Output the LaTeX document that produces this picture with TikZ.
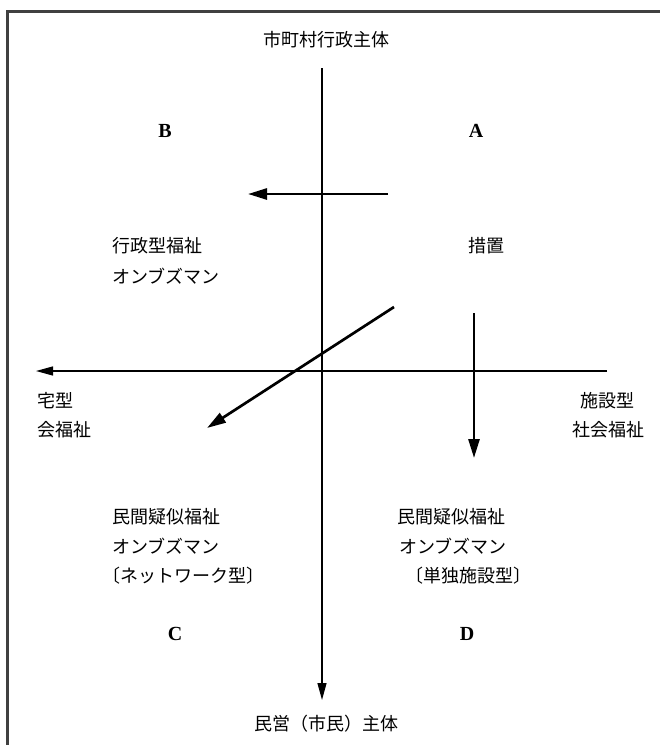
\documentclass[tikz,border=0pt]{standalone}
\usepackage{fontspec}
\setmainfont{Liberation Serif}
\newfontfamily\jp{Noto Sans CJK JP}
\usetikzlibrary{arrows.meta}
\begin{document}
\begin{tikzpicture}[x=1pt,y=-1pt,
  jt/.style={inner sep=0pt, font=\jp\fontsize{18}{18}\selectfont},
  lt/.style={inner sep=0pt, font=\bfseries\fontsize{20}{20}\selectfont},
  axisline/.style={line width=1.3pt, -{Triangle[length=17pt,width=9pt]}},
  flow/.style={line width=2.7pt, -{Triangle[length=19pt,width=11pt]}},
  framestyle/.style={line width=3pt, draw=black!75}]
\useasboundingbox (0,0) rectangle (660,745);
% frame (top and left edges visible)
\draw[framestyle] (7,745) -- (7,11) -- (660,11);
% coordinates
\coordinate (vtop) at (322,68);
\coordinate (vbot) at (322,700);
\coordinate (hR) at (607,371);
\coordinate (hL) at (36,371);
\coordinate (a1s) at (388,194);
\coordinate (a1e) at (248,194);
\coordinate (a2s) at (394,307);
\coordinate (a2e) at (207,428);
\coordinate (a3s) at (474,313);
\coordinate (a3e) at (474,458);
% axes
\draw[axisline] (vtop) -- (vbot);
\draw[axisline] (hR) -- (hL);
% flow arrows
\draw[flow] (a1s) -- (a1e);
\draw[flow] (a2s) -- (a2e);
\draw[flow] (a3s) -- (a3e);
% texts
\node[jt] (top) at (326,40) {市町村行政主体};
\node[jt] (bottom) at (326,724) {民営（市民）主体};
\node[lt] (B) at (165,131) {B};
\node[lt] (A) at (476,131) {A};
\node[lt] (C) at (175,634) {C};
\node[lt] (D) at (467,634) {D};
\node[jt,anchor=west] (b1) at (112,246) {行政型福祉};
\node[jt,anchor=west] (b2) at (112,276) {オンブズマン};
\node[jt] (a1) at (486,246) {措置};
\node[jt,anchor=west] (l1) at (37,401) {宅型};
\node[jt,anchor=west] (l2) at (37,430) {会福祉};
\node[jt,anchor=east] (r1) at (635,401) {施設型};
\node[jt,anchor=east] (r2) at (645,430) {社会福祉};
\node[jt,anchor=west] (c1) at (112,517) {民間疑似福祉};
\node[jt,anchor=west] (c2) at (112,546) {オンブズマン};
\node[jt,anchor=west] (c3) at (102,576) {〔ネットワーク型〕};
\node[jt,anchor=west] (d1) at (397,517) {民間疑似福祉};
\node[jt,anchor=west] (d2) at (399,546) {オンブズマン};
\node[jt,anchor=west] (d3) at (405,576) {〔単独施設型〕};
\end{tikzpicture}
\end{document}
